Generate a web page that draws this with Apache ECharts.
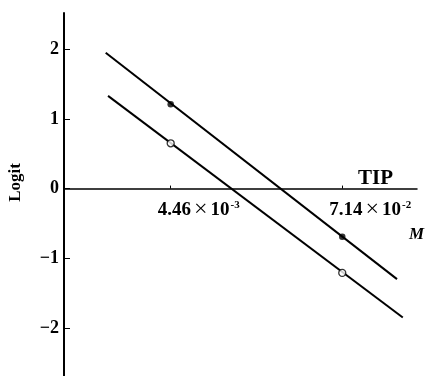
<!DOCTYPE html>
<html><head><meta charset="utf-8">
<script src="https://cdn.jsdelivr.net/npm/echarts@6/dist/echarts.min.js"></script>
<style>html,body{margin:0;padding:0;background:#fff}#c{width:427px;height:376px}</style>
</head><body><div id="c"></div>
<script>
// concentration M (plotted on a log10 scale)
const pointM = [4.46e-3, 7.14e-2];
const logitFilled = [1.21, -0.69];
const logitOpen = [0.65, -1.21];
// fitted lines (end points)
const lineFilledM = [1.56e-3, 0.173];
const lineFilledLogit = [1.95, -1.30];
const lineOpenM = [1.62e-3, 0.190];
const lineOpenLogit = [1.33, -1.85];
// axes
const xRangeM = [7.95e-4, 0.239];
const xTickM = [4.46e-3, 7.14e-2];
const xTickMant = ['4.46', '7.14'];
const xTickExp = ['-3', '-2'];
const yTicks = [-2, -1, 0, 1, 2];
const yRange = [-2.69, 2.52];

const lg = v => Math.log10(v);
const pairs = (xs, ys) => xs.map((x, i) => [lg(x), ys[i]]);
const xTickLog = xTickM.map(lg);
const FF = 'Liberation Serif';

const W = 427, H = 376;
const G = {left: 64, right: 10, top: 13, bottom: 0};
const gridH = H - G.top - G.bottom;
// put the x axis on the zero line of the y axis
const zeroOffset = -gridH * (0 - yRange[0]) / (yRange[1] - yRange[0]);

const chart = echarts.init(document.getElementById('c'), null, {renderer: 'canvas'});
chart.setOption({
  backgroundColor: '#fff',
  animation: false,
  title: [
    {text: 'TIP', left: 358, top: 168, padding: 0,
      textStyle: {fontFamily: FF, fontWeight: 'bold', fontSize: 21, color: '#000'}},
    {text: 'M', left: 409, top: 226, padding: 0,
      textStyle: {fontFamily: FF, fontWeight: 'bold', fontStyle: 'italic', fontSize: 17, color: '#000'}}
  ],
  grid: Object.assign({containLabel: false, outerBoundsMode: 'none'}, G),
  xAxis: {
    type: 'value', min: lg(xRangeM[0]), max: lg(xRangeM[1]),
    position: 'bottom', offset: zeroOffset,
    splitLine: {show: false},
    axisLine: {onZero: false, lineStyle: {color: '#000', width: 1.5}},
    axisTick: {show: true, customValues: xTickLog, length: 3, inside: true, lineStyle: {color: '#000'}},
    axisLabel: {
      show: true,
      customValues: xTickLog, margin: 11, align: 'center', padding: [0, 0, 0, 56],
      formatter: function (v) {
        let k = 0, best = Infinity;
        xTickLog.forEach((t, i) => { if (Math.abs(t - v) < best) { best = Math.abs(t - v); k = i; } });
        return '{m|' + xTickMant[k] + '}{x|×}{m|10}{s|' + xTickExp[k] + '}';
      },
      rich: {
        m: {fontFamily: FF, fontWeight: 'bold', fontSize: 19, color: '#000', lineHeight: 21},
        x: {fontFamily: FF, fontSize: 24, color: '#000', lineHeight: 21, padding: [0, 3, 0, 3]},
        s: {fontFamily: FF, fontWeight: 'bold', fontSize: 11, color: '#000', verticalAlign: 'top', lineHeight: 21, padding: [0, 0, 8, 1]}
      }
    }
  },
  yAxis: {
    type: 'value', min: yRange[0], max: yRange[1],
    splitLine: {show: false},
    axisLine: {onZero: false, lineStyle: {color: '#000', width: 2}},
    axisTick: {show: true, customValues: yTicks, inside: true, length: 6, lineStyle: {color: '#000'}},
    axisLabel: {customValues: yTicks, margin: 5,
      fontFamily: FF, fontWeight: 'bold', fontSize: 18, color: '#000',
      formatter: v => String(v).replace('-', '−')},
    name: 'Logit', nameLocation: 'middle', nameGap: 40,
    nameTextStyle: {fontFamily: FF, fontWeight: 'bold', fontSize: 17, color: '#000', padding: [0, 0, 0, 24]}
  },
  series: [
    {type: 'line', data: pairs(lineFilledM, lineFilledLogit), symbol: 'none',
      lineStyle: {color: '#000', width: 2}, z: 2},
    {type: 'line', data: pairs(lineOpenM, lineOpenLogit), symbol: 'none',
      lineStyle: {color: '#000', width: 2}, z: 2},
    {type: 'scatter', data: pairs(pointM, logitFilled), symbol: 'circle', symbolSize: 6.5,
      itemStyle: {color: '#000'}, z: 3},
    {type: 'scatter', data: pairs(pointM, logitOpen), symbol: 'circle', symbolSize: 7,
      itemStyle: {color: '#fff', borderColor: '#000', borderWidth: 1.3}, z: 3}
  ]
});
</script></body></html>
